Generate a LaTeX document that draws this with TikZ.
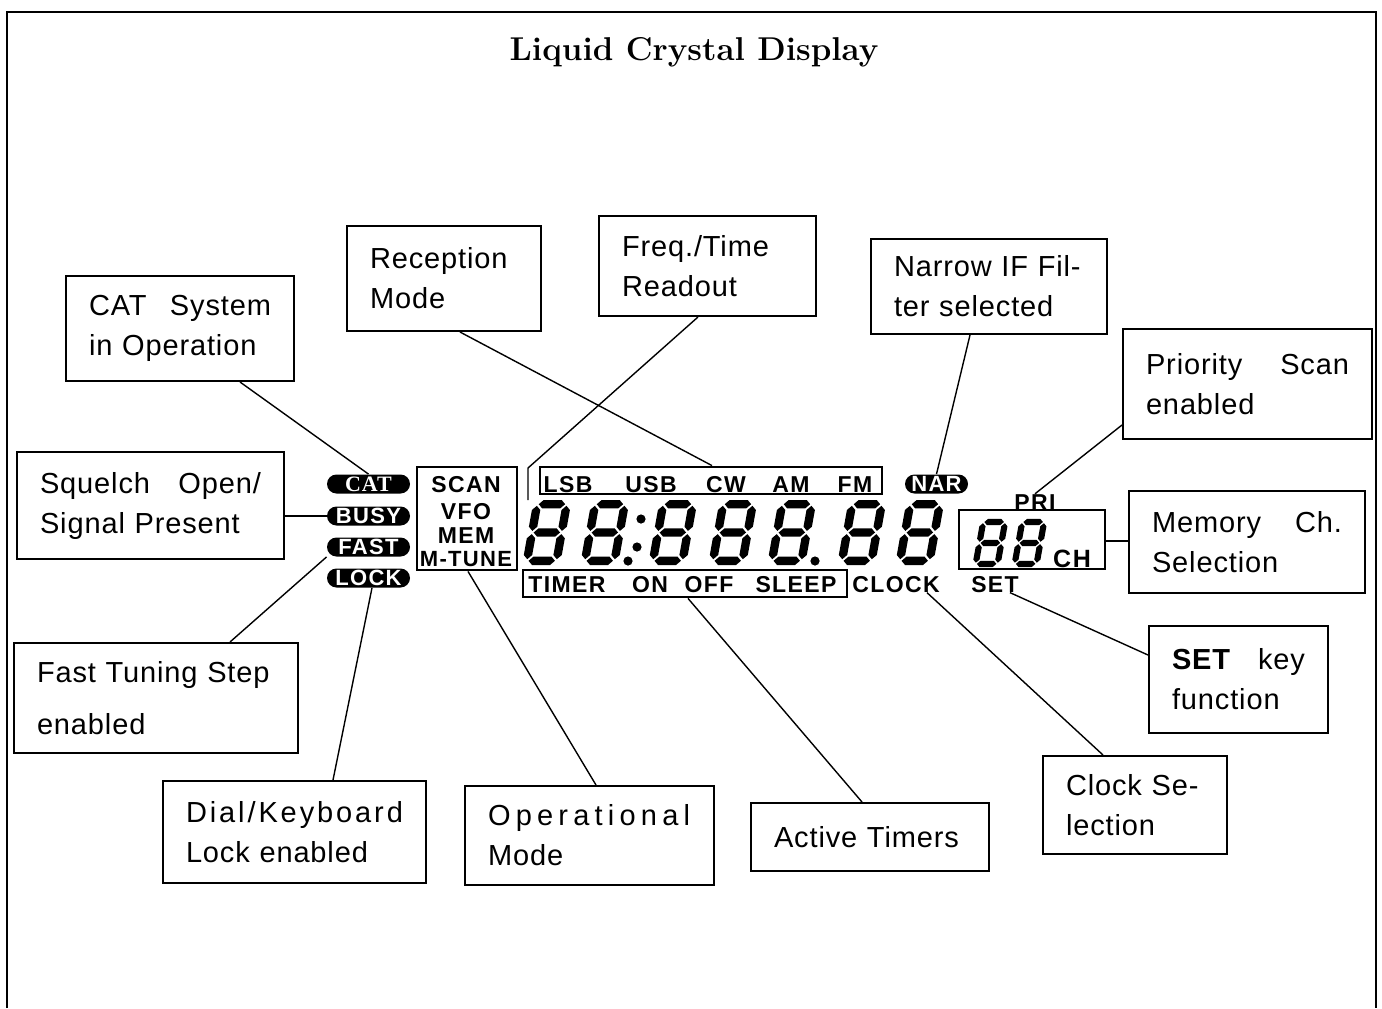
\documentclass[tikz,border=0pt]{standalone}
\usepackage{fontspec}
\setsansfont{Liberation Sans}
\newfontfamily\lblfont[LetterSpace=3]{Liberation Sans}
\newfontfamily\lcdfont[LetterSpace=6]{Liberation Sans}
\newfontfamily\catfont[LetterSpace=4]{Liberation Serif}
\usetikzlibrary{positioning}

% one slanted seven segment digit: x, bottom y, scale
\def\sh{4.2}
\newcommand{\hseg}[3]{\fill (#1,#3) -- ({#1+\sh},{#3-\sh}) -- ({#2-\sh},{#3-\sh}) -- (#2,#3) -- ({#2-\sh},{#3+\sh}) -- ({#1+\sh},{#3+\sh}) -- cycle;}
\newcommand{\vseg}[3]{\fill (#1,#2) -- ({#1+\sh},{#2+\sh}) -- ({#1+\sh},{#3-\sh}) -- (#1,#3) -- ({#1-\sh},{#3-\sh}) -- ({#1-\sh},{#2+\sh}) -- cycle;}
\newcommand{\lcddigit}[3]{%
\begin{scope}[shift={(#1,#2)},xslant=0.18,scale=#3]
\hseg{5.8}{32.2}{-60.8}
\hseg{5.8}{32.2}{-32.5}
\hseg{5.8}{32.2}{-4.2}
\vseg{4.2}{-59.2}{-34.1}
\vseg{4.2}{-30.9}{-5.8}
\vseg{33.8}{-59.2}{-34.1}
\vseg{33.8}{-30.9}{-5.8}
\end{scope}}

\begin{document}
\begin{tikzpicture}[x=0.5pt,y=-0.5pt,
  lbl/.style={draw,line width=1pt,anchor=north west,align=left,inner xsep=11.5pt,inner ysep=0pt,font=\lblfont\fontsize{14.5}{20}\selectfont},
  pill/.style={fill=black,rounded corners=4.75pt,minimum width=41.5pt,minimum height=9.5pt,inner sep=0pt,text=white,font=\lcdfont\bfseries\fontsize{11}{11}\selectfont},
  lcdtxt/.style={anchor=base,inner sep=0pt,font=\lcdfont\bfseries\fontsize{11.5}{11.5}\selectfont},
  lcdbox/.style={draw,line width=1.4pt,inner sep=0pt},
  wire/.style={line width=0.7pt}]
\useasboundingbox (0,0) rectangle (1382,1008);
\draw[line width=1pt] (7,1008) -- (7,12) -- (1376,12) -- (1376,1008);
\node[font=\fontsize{16.5}{19}\selectfont\bfseries,anchor=base] (title) at (694,60) {Liquid Crystal Display};

% label boxes
\node[lbl,text width=91pt,minimum height=52.5pt] (catlbl) at (65,275) {CAT\hfill System\\in Operation};
\node[lbl,text width=74pt,minimum height=52.5pt] (rcplbl) at (346,225) {Reception\\Mode};
\node[lbl,text width=85.5pt,minimum height=50pt] (frqlbl) at (598,215) {Freq./Time\\Readout};
\node[lbl,text width=95pt,minimum height=47.5pt] (narlbl) at (870,238) {Narrow IF Fil-\\ter selected};
\node[lbl,text width=101.5pt,minimum height=55pt] (prilbl) at (1122,328) {Priority\hfill Scan\\enabled};
\node[lbl,text width=110.5pt,minimum height=53.5pt] (sqllbl) at (16,451) {Squelch\hfill Open/\\Signal Present};
\node[lbl,text width=95pt,minimum height=51pt] (memlbl) at (1128,490) {Memory\hfill Ch.\\Selection};
\node[lbl,text width=66.5pt,minimum height=53.5pt] (setlbl) at (1148,625) {{\bfseries SET}\hfill key\\function};
\node[lbl,text width=119pt,minimum height=55pt,font=\lblfont\fontsize{14.5}{26}\selectfont] (fstlbl) at (13,642) {Fast Tuning Step\\enabled};
\node[lbl,text width=108.5pt,minimum height=51pt] (diallbl) at (162,780) {{\addfontfeature{LetterSpace=10}Dial/Keyboard}\\Lock enabled};
\node[lbl,text width=101.5pt,minimum height=49.5pt] (opmlbl) at (464,785) {{\addfontfeature{LetterSpace=18}Operational}\\Mode};
\node[lbl,text width=96pt,minimum height=34pt] (tmrlbl) at (750,802) {Active Timers};
\node[lbl,text width=69pt,minimum height=49pt] (clklbl) at (1042,755) {Clock Se-\\lection};

% display indicators
\node[pill] (catp) at (368.5,484) {\catfont\bfseries CAT};
\node[pill] (busyp) at (368.5,516) {BUSY};
\node[pill] (fastp) at (368.5,547) {FAST};
\node[pill] (lockp) at (368.5,578) {LOCK};
\node[pill,minimum width=31.5pt] (narp) at (936.5,484) {NAR};

\node[lcdbox,minimum width=50pt,minimum height=51.5pt] (opbox) at (467,518.5) {};
\node[lcdtxt] (scan) at (466,492) {SCAN};
\node[lcdtxt] (vfo) at (466,519) {VFO};
\node[lcdtxt] (mem) at (466,543) {MEM};
\node[lcdtxt,font=\lcdfont\bfseries\fontsize{11}{11}\selectfont] (mtune) at (466,566) {M-TUNE};

\node[lcdbox,minimum width=171pt,minimum height=13.5pt] (modebar) at (711,480.5) {};
\node[lcdtxt] (lsb) at (568,492) {LSB};
\node[lcdtxt] (usb) at (651,492) {USB};
\node[lcdtxt] (cw) at (726,492) {CW};
\node[lcdtxt] (am) at (791,492) {AM};
\node[lcdtxt] (fm) at (855,492) {FM};

\node[lcdbox,minimum width=162pt,minimum height=13.5pt] (timerbar) at (685,583.5) {};
\node[lcdtxt] (timer) at (567,592) {TIMER};
\node[lcdtxt] (on) at (650,592) {ON};
\node[lcdtxt] (off) at (709,592) {OFF};
\node[lcdtxt] (sleep) at (796,592) {SLEEP};
\node[lcdtxt] (clock) at (896,592) {CLOCK};
\node[lcdtxt] (set) at (995,592) {SET};
\node[lcdtxt] (pri) at (1035,510) {PRI};

\node[lcdbox,minimum width=73pt,minimum height=29.5pt] (chbox) at (1032,539.5) {};
\node[lcdtxt,font=\lcdfont\bfseries\fontsize{12.5}{12.5}\selectfont] (ch) at (1072,567) {CH};

\lcddigit{522}{565}{1}
\lcddigit{580}{565}{1}
\lcddigit{648}{565}{1}
\lcddigit{708}{565}{1}
\lcddigit{767}{565}{1}
\lcddigit{837}{565}{1}
\lcddigit{895}{565}{1}
\lcddigit{972}{567}{0.74}
\lcddigit{1011}{567}{0.74}
\fill (628,561) circle[radius=2.3pt];
\fill (815,561) circle[radius=2.3pt];
\fill (641,519) circle[radius=2.3pt];
\fill (637,547) circle[radius=2.3pt];

% connectors
\coordinate (rdbend) at (528,468);
\coordinate (rdtip) at (528,500);
\draw[wire] (catlbl.south -| 240,0) -- (catp.north);
\draw[wire] (rcplbl.south -| 460,0) -- (modebar.north -| 712,0);
\draw[wire] (frqlbl.south -| 698,0) -- (rdbend) -- (rdtip);
\draw[wire] (narlbl.south -| 970,0) -- (narp.north);
\draw[wire] (prilbl.west |- 0,425) -- (pri.north);
\draw[wire] (sqllbl.east |- 0,516) -- (busyp.west);
\draw[wire] (memlbl.west |- 0,541) -- (chbox.east |- 0,541);
\draw[wire] (setlbl.west |- 0,655) -- (set.south -| 1010,0);
\draw[wire] (fstlbl.north -| 230,0) -- (fastp.south west);
\draw[wire] (diallbl.north -| 333,0) -- (lockp.south -| 372,0);
\draw[wire] (opmlbl.north -| 596,0) -- (opbox.south -| 468,0);
\draw[wire] (tmrlbl.north -| 862,0) -- (timerbar.south -| 688,0);
\draw[wire] (clklbl.north -| 1103,0) -- (clock.south -| 927,0);
\end{tikzpicture}
\end{document}
